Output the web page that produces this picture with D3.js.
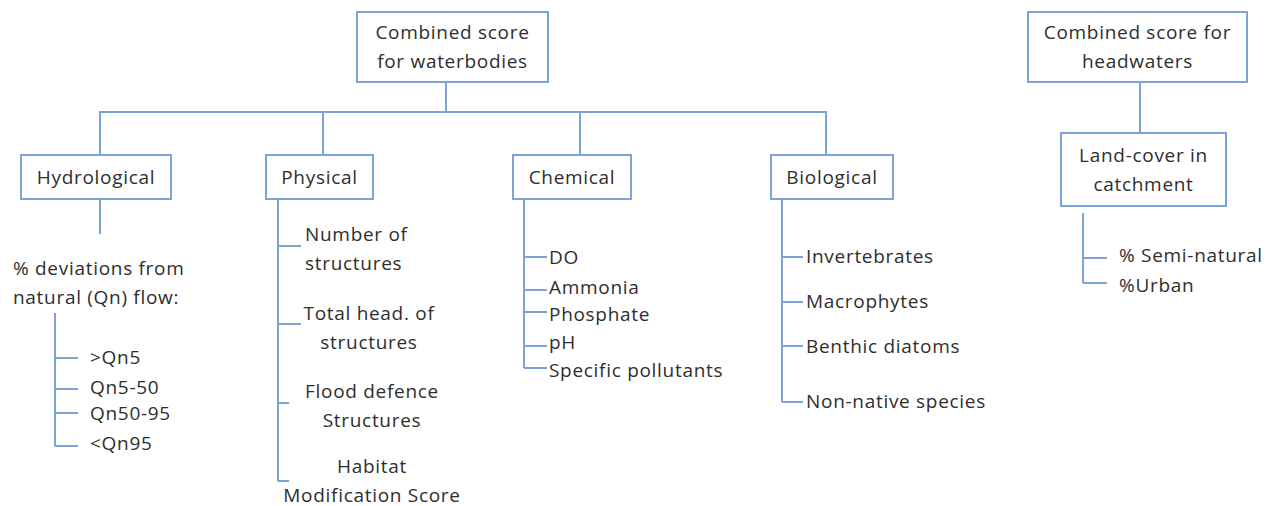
<!DOCTYPE html>
<html>
<head>
<meta charset="utf-8">
<script src="https://cdn.jsdelivr.net/npm/d3@7"></script>
<style>
  body { margin: 0; background: #fff; }
  text { font-family: "Open Sans", sans-serif; fill: #2e2e2e; letter-spacing: 0.7px; }
</style>
</head>
<body>
<script>
// labels of the diagram
const rootLabel = ["Combined score", "for waterbodies"];
const categories = ["Hydrological", "Physical", "Chemical", "Biological"];
const hydroNote = ["% deviations from", "natural (Qn) flow:"];
const hydroItems = [">Qn5", "Qn5-50", "Qn50-95", "<Qn95"];
const physicalItems = [["Number of", "structures"], ["Total head. of", "structures"], ["Flood defence", "Structures"], ["Habitat", "Modification Score"]];
const chemicalItems = ["DO", "Ammonia", "Phosphate", "pH", "Specific pollutants"];
const biologicalItems = ["Invertebrates", "Macrophytes", "Benthic diatoms", "Non-native species"];
const headRoot = ["Combined score for", "headwaters"];
const headChild = ["Land-cover in", "catchment"];
const headItems = ["% Semi-natural", "%Urban"];

let width = 1272, height = 506;
let lineCol = "#7ea3d6";
let fs = 19, lh = 29;

let svg = d3.select("body").append("svg")
    .attr("width", width)
    .attr("height", height);

let gl = svg.append("g").attr("class", "links");
let gb = svg.append("g").attr("class", "boxes");
let gt = svg.append("g").attr("class", "labels");

function line(pts) {
    gl.append("path")
        .attr("d", d3.line()(pts))
        .attr("fill", "none")
        .attr("stroke", lineCol)
        .attr("stroke-width", 2);
}

function box(x0, y0, x1, y1, lines) {
    gb.append("rect")
        .attr("x", x0).attr("y", y0)
        .attr("width", x1 - x0).attr("height", y1 - y0)
        .attr("fill", "#fff")
        .attr("stroke", lineCol)
        .attr("stroke-width", 2);
    let cy = (y0 + y1) / 2 - (lines.length - 1) * lh / 2;
    label((x0 + x1) / 2, cy, lines, "middle");
}

function label(x, y, lines, anchor) {
    let t = gt.append("text")
        .attr("text-anchor", anchor)
        .style("font-size", fs + "px");
    t.selectAll("tspan")
        .data(lines)
        .enter().append("tspan")
        .attr("x", x)
        .attr("y", (d, i) => y + i * lh)
        .attr("dy", "0.35em")
        .text(d => d);
}

// bracket: vertical spine with ticks to each item
function bracket(x, yTop, ticks) {
    line([[x, yTop], [x, ticks[ticks.length - 1].y]]);
    ticks.forEach(t => line([[x, t.y], [t.x2, t.y]]));
}

// ---- waterbodies tree
let root = {x0: 357, y0: 12, x1: 548, y1: 82, cx: 446, bus: 112};
let cat = [
    {x0: 21, x1: 171, cx: 100},
    {x0: 266, x1: 373, cx: 323},
    {x0: 513, x1: 631, cx: 580},
    {x0: 771, x1: 893, cx: 826}
];
let catY0 = 155, catY1 = 199;

line([[root.cx, root.y1], [root.cx, root.bus]]);
line([[cat[0].cx, catY0], [cat[0].cx, root.bus], [cat[3].cx, root.bus], [cat[3].cx, catY0]]);
cat.forEach(c => line([[c.cx, root.bus], [c.cx, catY0]]));
box(root.x0, root.y0, root.x1, root.y1, rootLabel);
categories.forEach((name, i) => box(cat[i].x0, catY0, cat[i].x1, catY1, [name]));

// hydrological
line([[cat[0].cx, catY1], [cat[0].cx, 234]]);
label(13, 268, hydroNote, "start");
let hydroTickY = [358, 389, 413, 446];
let hydroTextY = [357, 387, 413, 443];
bracket(55, 313, hydroTickY.map(y => ({y: y, x2: 78})));
hydroItems.forEach((d, i) => label(90, hydroTextY[i], [d], "start"));

// physical
let physTick = [{y: 246, x2: 301}, {y: 324, x2: 301}, {y: 403, x2: 289}, {y: 481, x2: 289}];
let physText = [{x: 305, y: 234, a: "start"}, {x: 369, y: 313, a: "middle"}, {x: 372, y: 391, a: "middle"}, {x: 372, y: 466, a: "middle"}];
bracket(278, catY1, physTick);
physicalItems.forEach((d, i) => label(physText[i].x, physText[i].y, d, physText[i].a));

// chemical
let chemTickY = [257, 290, 312, 346, 368];
let chemTextY = [257, 287, 314, 342, 370];
bracket(524, catY1, chemTickY.map(y => ({y: y, x2: 547})));
chemicalItems.forEach((d, i) => label(549, chemTextY[i], [d], "start"));

// biological
let bioTickY = [257, 302, 346, 402];
let bioTextY = [256, 301, 346, 401];
bracket(782, catY1, bioTickY.map(y => ({y: y, x2: 803})));
biologicalItems.forEach((d, i) => label(806, bioTextY[i], [d], "start"));

// ---- headwaters tree
line([[1140, 82], [1140, 133]]);
box(1028, 12, 1247, 82, headRoot);
box(1061, 133, 1226, 206, headChild);
bracket(1083, 213, [{y: 258, x2: 1107}, {y: 283, x2: 1107}]);
headItems.forEach((d, i) => label(1119, [255, 285][i], [d], "start"));
</script>
</body>
</html>
